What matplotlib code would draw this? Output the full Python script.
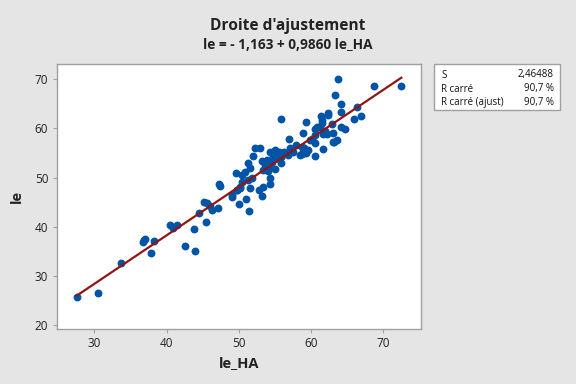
import matplotlib
matplotlib.use("Agg")
import matplotlib.pyplot as plt
import numpy as np

plt.rcParams['font.family'] = ['Open Sans', 'DejaVu Sans']

# ---- data ----
le_HA = [27.6, 30.55, 33.7, 36.8, 37.0, 36.9, 38.2, 37.85, 40.5, 40.95, 41.5, 42.55,
         43.8, 43.9, 44.5, 45.2, 45.6, 45.4, 46.0, 46.3, 47.1, 47.2, 47.4, 49.0, 49.05,
         49.6, 50.0, 49.8, 50.2,
         49.7, 50.2, 50.4, 51.3, 51.8, 50.5, 50.9, 51.55, 51.3, 51.0, 51.4, 51.6, 52.8,
         53.4, 53.2, 54.3, 54.3,
         52.25, 52.9, 52.0, 54.3, 55.0, 55.4, 55.5, 55.9, 54.8, 55.5, 55.9, 55.0, 54.1,
         53.4, 54.3, 53.6, 54.55, 53.9, 53.2, 56.2, 56.85, 57.1, 57.5, 57.9, 58.7, 58.9,
         58.5, 59.3, 56.95, 55.85, 55.7, 58.8, 59.6, 59.0,
         59.26, 58.85, 60.2, 60.5, 60.55, 60.55, 61.7, 61.7, 62.2, 63.1, 63.1, 63.55,
         60.8, 61.3, 61.55, 61.4, 62.4, 62.9, 64.2, 64.7, 64.1, 62.3, 65.9, 66.9, 66.3,
         64.2, 63.3, 63.8, 68.7, 72.5, 61.5, 59.85, 63.2, 60.6, 61.9]
le = [25.8, 26.6, 32.6, 37.0, 37.6, 37.3, 37.2, 34.75, 40.4, 39.7, 40.4, 36.2,
      39.6, 35.2, 42.9, 45.1, 44.8, 41.0, 44.25, 43.4, 43.8, 48.7, 48.3, 46.5, 46.1,
      51.0, 44.65, 47.4, 47.85,
      47.5, 48.05, 49.2, 49.5, 49.9, 50.55, 51.2, 51.9, 52.9, 45.7, 43.3, 47.85, 47.5,
      48.05, 46.3, 48.7, 49.9,
      56.0, 56.0, 54.4, 55.3, 55.6, 54.5, 55.3, 54.3, 54.3, 53.7, 52.9, 51.7, 51.4,
      51.55, 52.2, 52.6, 53.25, 53.6, 53.45, 55.3, 54.6, 56.0, 55.3, 56.6, 56.3, 55.3,
      54.6, 55.0, 57.8, 62.0, 54.6, 54.8, 55.6, 56.0,
      61.4, 59.15, 57.8, 57.1, 58.7, 54.5, 55.9, 58.9, 58.9, 59.0, 57.3, 57.65,
      60.4, 60.25, 61.2, 62.5, 62.8, 60.9, 60.4, 59.9, 63.4, 63.1, 61.9, 62.5, 64.4,
      65.0, 66.8, 70.05, 68.6, 68.6, 61.7, 57.65, 57.3, 59.9, 59.4]

intercept = -1.163
slope = 0.9860
stat_labels = ["S", "R carré", "R carré (ajust)"]
stat_values = ["2,46488", "90,7 %", "90,7 %"]
x_ticks = [30, 40, 50, 60, 70]
y_ticks = [20, 30, 40, 50, 60, 70]

# ---- figure ----
bg = '#E5E5E5'
fig = plt.figure(figsize=(5.76, 3.84), dpi=100, facecolor=bg)
ax = fig.add_axes([0.0984, 0.1432, 0.632, 0.6894])
ax.set_facecolor('white')

ax.scatter(le_HA, le, s=32, color='#0054A6', zorder=3, linewidths=0)
xs = np.array([min(le_HA), max(le_HA)])
ax.plot(xs, intercept + slope * xs, color='#921515', lw=1.6, zorder=4)

ax.set_xlim(24.8, 75.18)
ax.set_ylim(19.25, 73.05)
ax.set_xticks(x_ticks)
ax.set_yticks(y_ticks)
for s in ax.spines.values():
    s.set_color('#A0A0A0')
    s.set_linewidth(1.0)
ax.tick_params(direction='out', length=3, width=0.8, color='#A0A0A0',
               labelsize=8.5, labelcolor='#222222', pad=3)

ax.set_xlabel('le_HA', fontsize=10.5, fontweight='bold', color='#222222', labelpad=4)
ax.set_ylabel('le', fontsize=10.5, fontweight='bold', color='#222222', labelpad=8)

fig.text(0.5, 1 - 25.7/384, "Droite d'ajustement", ha='center', va='center',
         fontsize=11.2, fontweight='bold', color='#222222')
fig.text(0.5, 1 - 45/384, "le = - 1,163 + 0,9860 le_HA", ha='center', va='center',
         fontsize=9.8, fontweight='bold', color='#222222')

# stats box
bx0, bx1 = 434.3/576, 560/576
by0, by1 = 1 - 110/384, 1 - 64.3/384
fig.patches.append(plt.Rectangle((bx0, by0), bx1 - bx0, by1 - by0,
                                 transform=fig.transFigure, facecolor='white',
                                 edgecolor='#A0A0A0', lw=1.0))
rows_y = [75, 89, 102.3]
for lab, val, yy in zip(stat_labels, stat_values, rows_y):
    fig.text(441/576, 1 - yy/384, lab, ha='left', va='center', fontsize=7, color='#111111')
    fig.text(554/576, 1 - yy/384, val, ha='right', va='center', fontsize=7, color='#111111')

fig.savefig('out.png', dpi=100, facecolor=bg)
